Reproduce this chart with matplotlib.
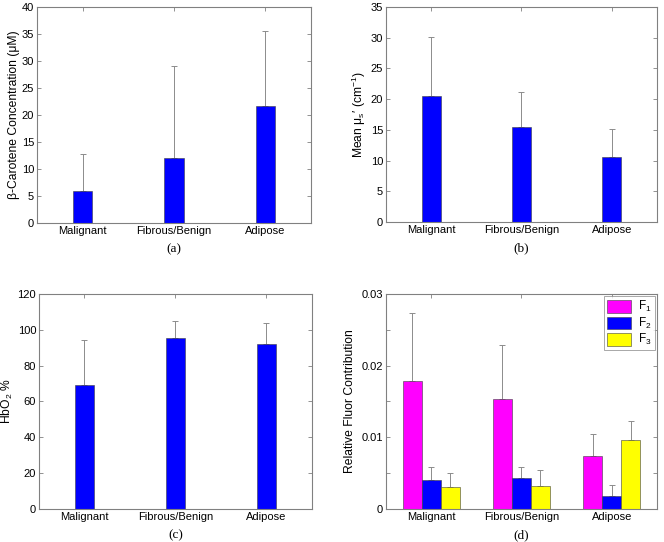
import numpy as np
import matplotlib
matplotlib.use("Agg")
import matplotlib.pyplot as plt
import matplotlib.patches as patches

plt.rcParams['font.family'] = ['Liberation Sans', 'DejaVu Sans']
plt.rcParams['font.size'] = 8

# data (mean, upper end of error bar)
tissues = ["Malignant", "Fibrous/Benign", "Adipose"]

carotene = [5.9, 12.0, 21.7]
carotene_top = [12.7, 29.0, 35.6]

mus = [20.5, 15.4, 10.6]
mus_top = [30.1, 21.2, 15.2]

hbo2 = [69.4, 95.3, 92.3]
hbo2_top = [94.3, 104.9, 103.8]

f1 = [0.0179, 0.0154, 0.00735]
f1_top = [0.0274, 0.0229, 0.0105]
f2 = [0.0040, 0.00433, 0.00181]
f2_top = [0.00586, 0.00586, 0.0034]
f3 = [0.00312, 0.0032, 0.00967]
f3_top = [0.00507, 0.00544, 0.0123]

BLUE = "#0000ff"
MAGENTA = "#ff00ff"
YELLOW = "#ffff00"
FRAME = "#808080"
ERR = "#8c8c8c"


def style_axes(ax, ylim, yticks, yfmt=None):
    ax.set_xlim(0.5, 3.5)
    ax.set_ylim(*ylim)
    ax.set_xticks([1, 2, 3])
    ax.set_xticklabels(tissues)
    ax.set_yticks(yticks)
    if yfmt:
        ax.set_yticklabels([yfmt(v) for v in yticks])
    ax.tick_params(direction="in", top=True, right=True, length=3,
                   width=0.6, color=FRAME, labelsize=8, pad=2)
    for s in ax.spines.values():
        s.set_color(FRAME)
        s.set_linewidth(0.8)


def bars(ax, x, vals, tops, width, color):
    x = np.asarray(x, dtype=float)
    vals = np.asarray(vals)
    tops = np.asarray(tops)
    ax.errorbar(x, vals, yerr=[np.zeros_like(vals), tops - vals], fmt="none",
                ecolor=ERR, elinewidth=0.7, capsize=2, capthick=0.7, zorder=1)
    ax.bar(x, vals, width=width, color=color, edgecolor="#404040",
           linewidth=0.4, zorder=2)


def caption(ax, text):
    # caption sits ~25 px under the axes
    ax.annotate(text, xy=(0.5, 0), xycoords="axes fraction",
                xytext=(0, -19), textcoords="offset points",
                ha="center", va="center", fontsize=9.5,
                family="Liberation Serif")


fig = plt.figure(figsize=(6.64, 5.42), dpi=100)
x = np.arange(1, 4)

# (a)
ax_a = fig.add_axes([0.0557, 0.5886, 0.4127, 0.3985])
bars(ax_a, x, carotene, carotene_top, 0.21, BLUE)
style_axes(ax_a, (0, 40), range(0, 41, 5))
ax_a.set_ylabel("β-Carotene Concentration (μM)", fontsize=8.7, labelpad=1)
caption(ax_a, "(a)")

# (b)
ax_b = fig.add_axes([0.5813, 0.5904, 0.408, 0.3967])
bars(ax_b, x, mus, mus_top, 0.21, BLUE)
style_axes(ax_b, (0, 35), range(0, 36, 5))
ax_b.set_ylabel(r"Mean μ$\mathregular{_s}$′ (cm$\mathregular{^{-1}}$)", fontsize=8.7, labelpad=2)
caption(ax_b, "(b)")

# (c)
ax_c = fig.add_axes([0.0587, 0.0609, 0.411, 0.3967])
bars(ax_c, x, hbo2, hbo2_top, 0.21, BLUE)
style_axes(ax_c, (0, 120), range(0, 121, 20))
ax_c.set_ylabel(r"HbO$\mathregular{_2}$ %", fontsize=8.7, labelpad=2)
caption(ax_c, "(c)")

# (d)
ax_d = fig.add_axes([0.5813, 0.0609, 0.408, 0.3967])
w = 0.21
bars(ax_d, x - w, f1, f1_top, w, MAGENTA)
bars(ax_d, x, f2, f2_top, w, BLUE)
bars(ax_d, x + w, f3, f3_top, w, YELLOW)
style_axes(ax_d, (0, 0.03), [0, 0.01, 0.02, 0.03],
           yfmt=lambda v: "0" if v == 0 else f"{v:.2f}")
ax_d.set_yticks([0.005, 0.015, 0.025], minor=True)
ax_d.tick_params(which="minor", direction="in", right=True, length=3,
                 width=0.6, color=FRAME)
ax_d.set_ylabel("Relative Fluor Contribution", fontsize=8.7, labelpad=4)
handles = [patches.Patch(facecolor=c, edgecolor="#404040", linewidth=0.4)
           for c in (MAGENTA, BLUE, YELLOW)]
leg = ax_d.legend(handles, [r"F$\mathregular{_1}$", r"F$\mathregular{_2}$", r"F$\mathregular{_3}$"],
                  loc="upper right", fontsize=8.5, fancybox=False,
                  edgecolor=FRAME, borderaxespad=0.2, handlelength=2.0,
                  handleheight=1.25, labelspacing=0.12, borderpad=0.25,
                  handletextpad=0.6)
leg.get_frame().set_linewidth(0.6)
caption(ax_d, "(d)")

fig.savefig("out.png", dpi=100)
